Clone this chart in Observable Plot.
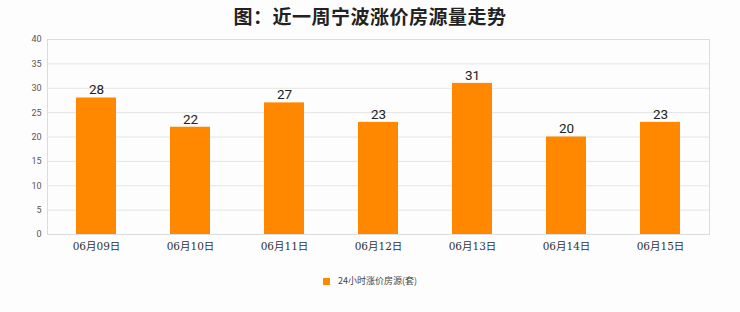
<!DOCTYPE html>
<html><head><meta charset="utf-8">
<script src="https://cdn.jsdelivr.net/npm/d3@7"></script>
<script src="https://cdn.jsdelivr.net/npm/@observablehq/plot@0.6"></script>
<style>
html,body{margin:0;padding:0;background:#fdfdfd;}
#wrap{position:relative;width:740px;height:312px;overflow:hidden;}
#title{position:absolute;top:2px;left:0;width:740px;text-align:center;font:bold 19px "Noto Sans CJK SC",sans-serif;color:#222;letter-spacing:0.5px;}
#legend{position:absolute;top:274px;left:0;width:740px;text-align:center;font:9px "Noto Sans CJK SC",sans-serif;color:#444;}
#legend span.sw{display:inline-block;width:7px;height:7px;background:#FF8800;margin-right:8px;vertical-align:-0.5px;}
#chart{position:absolute;top:0;left:0;}
</style></head>
<body><div id="wrap"><div id="title">图：近一周宁波涨价房源量走势</div><div id="chart"></div><div id="legend"><span class="sw"></span>24小时涨价房源(套)</div></div>
<script>
const dates = ["06月09日","06月10日","06月11日","06月12日","06月13日","06月14日","06月15日"];
const values = [28,22,27,23,31,20,23];
const yTicks = [0,5,10,15,20,25,30,35,40];
const data = dates.map((d,i)=>({date:d, value:values[i]}));
const chart = Plot.plot({
  width:740, height:312,
  marginTop:39, marginBottom:78, marginLeft:47, marginRight:31,
  style:{background:"transparent", fontFamily:"Roboto, sans-serif"},
  x:{domain:dates, paddingInner:0.577, paddingOuter:0.289, label:null, tickSize:0},
  y:{domain:[0,40], ticks:yTicks, label:null, tickSize:0},
  marks:[
    Plot.gridY(yTicks,{stroke:"#e4e4e4", strokeOpacity:1}),
    Plot.frame({stroke:"#dcdcdc"}),
    Plot.barY(data,{x:"date", y:"value", fill:"#FF8800"}),
    Plot.text(data,{x:"date", y:"value", text:d=>String(d.value), dy:-8, fontSize:13.5, fill:"#222"}),
    Plot.axisY(yTicks,{tickSize:0, tickPadding:6, fontSize:9, fill:"#555"}),
    Plot.axisX(dates,{tickSize:0, tickPadding:8, fontSize:10.5, fill:"#333", fontFamily:"'DejaVu Serif','Noto Sans CJK SC',serif"})
  ]
});
document.getElementById("chart").appendChild(chart);
</script></body></html>
